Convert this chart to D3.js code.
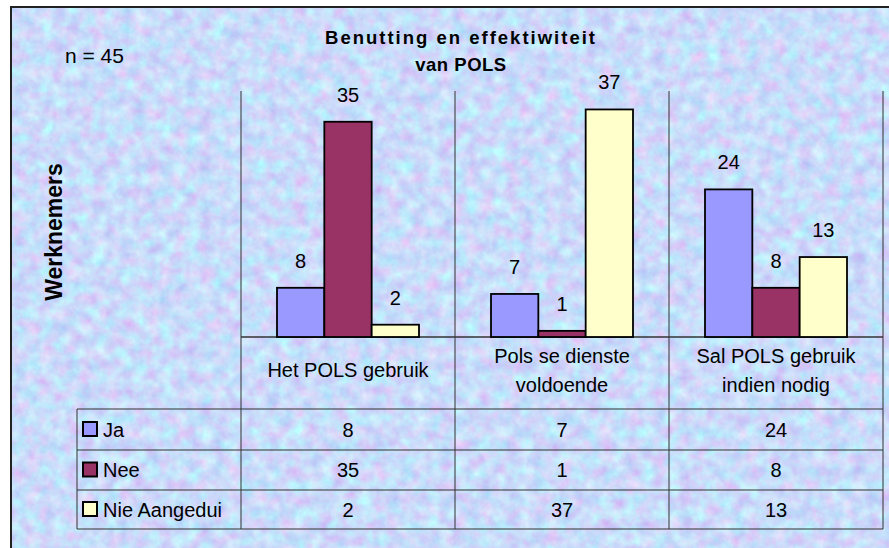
<!DOCTYPE html>
<html>
<head>
<meta charset="utf-8">
<script src="https://cdn.jsdelivr.net/npm/d3@7"></script>
<style>
  html, body { margin: 0; padding: 0; background: #ffffff; }
  svg { display: block; }
  text { font-family: "Liberation Sans", Arial, sans-serif; fill: #000; }
</style>
</head>
<body>
<svg id="chart" width="889" height="548"></svg>
<script>
// ---- data ----
const categories = ["Het POLS gebruik", "Pols se dienste voldoende", "Sal POLS gebruik indien nodig"];
const categoryLines = [["Het POLS gebruik"], ["Pols se dienste", "voldoende"], ["Sal POLS gebruik", "indien nodig"]];
const seriesNames = ["Ja", "Nee", "Nie Aangedui"];
const jaValues = [8, 7, 24];
const neeValues = [35, 1, 8];
const nieValues = [2, 37, 13];
const titleLines = ["Benutting en effektiwiteit", "van POLS"];
const yAxisTitle = "Werknemers";
const sampleNote = "n = 45";
const yMax = 40;

// ---- styles / layout ----
const seriesColors = ["#9999FF", "#993366", "#FFFFCC"];
const W = 889, H = 548;
const plot = { left: 241, right: 883, top: 91, bottom: 337 };
const table = { left: 77, rowLines: [409, 450, 490, 529] };
const groupInset = 36;

const values = [jaValues, neeValues, nieValues];
const svg = d3.select("#chart");

// textured background
const defs = svg.append("defs");
const f = defs.append("filter").attr("id", "tex")
  .attr("x", 0).attr("y", 0).attr("width", "100%").attr("height", "100%")
  .attr("color-interpolation-filters", "sRGB");
f.append("feTurbulence").attr("type", "fractalNoise").attr("baseFrequency", 0.075)
  .attr("numOctaves", 3).attr("seed", 7).attr("result", "n");
f.append("feColorMatrix").attr("type", "matrix").attr("values",
  "0.22 -0.10 -0.16 0 0.81 " +
  "-0.12 0.24 -0.16 0 0.88 " +
  "0 0.04 -0.02 0 0.97 " +
  "0 0 0 0 1");

svg.append("rect").attr("x", 11).attr("y", 7).attr("width", W).attr("height", H)
  .attr("filter", "url(#tex)");
svg.append("rect").attr("x", 11).attr("y", 7).attr("width", W + 10).attr("height", H + 10)
  .attr("fill", "none").attr("stroke", "#222").attr("stroke-width", 2);

// scales
const x0 = d3.scaleBand().domain(categories).range([plot.left, plot.right]).padding(0);
const x1 = d3.scaleBand().domain(seriesNames).range([groupInset, x0.bandwidth() - groupInset]).padding(0);
const y = d3.scaleLinear().domain([0, yMax]).range([plot.bottom, plot.top]);

const lineColor = "#333";
// vertical grid / table lines
const vx = categories.map(c => x0(c)).concat([plot.right]);
svg.append("g").selectAll("line").data(vx).join("line")
  .attr("x1", d => d).attr("x2", d => d)
  .attr("y1", plot.top).attr("y2", table.rowLines[table.rowLines.length - 1])
  .attr("stroke", lineColor).attr("stroke-width", 1);
// baseline
svg.append("line").attr("x1", plot.left).attr("x2", plot.right)
  .attr("y1", y(0)).attr("y2", y(0)).attr("stroke", lineColor).attr("stroke-width", 1.5);
// table horizontal lines
svg.append("g").selectAll("line").data(table.rowLines).join("line")
  .attr("x1", table.left).attr("x2", plot.right)
  .attr("y1", d => d).attr("y2", d => d)
  .attr("stroke", lineColor).attr("stroke-width", 1);
svg.append("line").attr("x1", table.left).attr("x2", table.left)
  .attr("y1", table.rowLines[0]).attr("y2", table.rowLines[3])
  .attr("stroke", lineColor).attr("stroke-width", 1);

// bars
const barData = [];
categories.forEach((c, ci) => seriesNames.forEach((s, si) =>
  barData.push({ c, s, si, v: values[si][ci] })));
const gBars = svg.append("g");
gBars.selectAll("rect").data(barData).join("rect")
  .attr("x", d => x0(d.c) + x1(d.s))
  .attr("y", d => y(d.v))
  .attr("width", x1.bandwidth())
  .attr("height", d => y(0) - y(d.v))
  .attr("fill", d => seriesColors[d.si])
  .attr("stroke", "#000").attr("stroke-width", 1.8);
gBars.selectAll("text").data(barData).join("text")
  .attr("x", d => x0(d.c) + x1(d.s) + x1.bandwidth() / 2)
  .attr("y", d => y(d.v) - 20)
  .attr("text-anchor", "middle").attr("font-size", 20)
  .text(d => d.v);

// category labels
categoryLines.forEach((lines, ci) => {
  const cx = x0(categories[ci]) + x0.bandwidth() / 2;
  const t = svg.append("text").attr("text-anchor", "middle").attr("font-size", 20);
  const y0 = lines.length === 1 ? 377 : 363;
  lines.forEach((l, li) => t.append("tspan").attr("x", cx).attr("y", y0 + li * 29).text(l));
});

// table rows
seriesNames.forEach((s, si) => {
  const top = table.rowLines[si], bot = table.rowLines[si + 1];
  const mid = (top + bot) / 2;
  svg.append("rect").attr("x", 83).attr("y", mid - 7.5).attr("width", 14).attr("height", 14)
    .attr("fill", seriesColors[si]).attr("stroke", "#000").attr("stroke-width", 2);
  svg.append("text").attr("x", 103).attr("y", mid + 7).attr("font-size", 20).text(s);
  categories.forEach((c, ci) => {
    svg.append("text").attr("x", x0(c) + x0.bandwidth() / 2).attr("y", mid + 7)
      .attr("text-anchor", "middle").attr("font-size", 20).text(values[si][ci]);
  });
});

// titles
titleLines.forEach((l, i) => {
  svg.append("text").attr("x", 461).attr("y", 44 + i * 27)
    .attr("text-anchor", "middle").attr("font-size", 18.5).attr("font-weight", "bold")
    .attr("letter-spacing", i === 0 ? 2 : 0.5).text(l);
});
svg.append("text").attr("x", 65).attr("y", 63).attr("font-size", 21).text(sampleNote);
svg.append("text").attr("transform", "translate(62,232) rotate(-90)")
  .attr("text-anchor", "middle").attr("font-size", 23).attr("font-weight", "bold")
  .text(yAxisTitle);
</script>
</body>
</html>
